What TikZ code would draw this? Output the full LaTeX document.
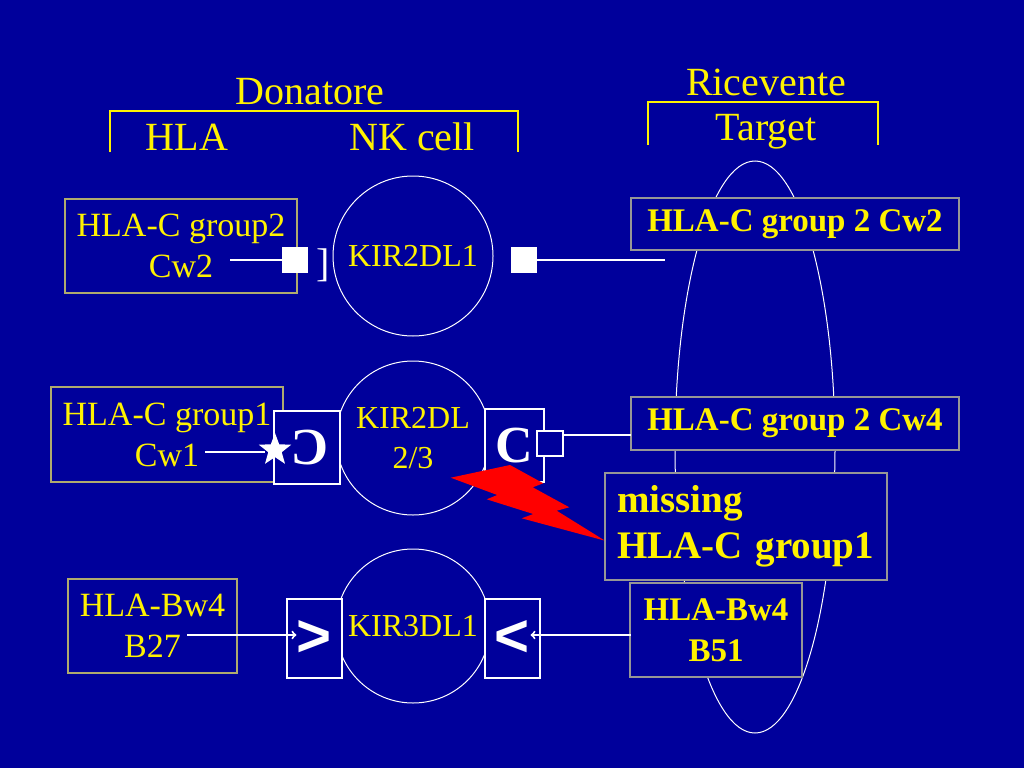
\documentclass[tikz,border=0pt]{standalone}
\usepackage{fontspec}
\setmainfont{Liberation Serif}
\newfontfamily\chevronfont{Liberation Sans}
\usepackage{graphicx}
\usetikzlibrary{shapes.geometric}
\definecolor{slideblue}{RGB}{0,0,155}
\definecolor{olivebox}{RGB}{175,170,110}
\definecolor{greybox}{RGB}{150,150,150}

\begin{document}
\begin{tikzpicture}[x=1pt, y=-1pt,
    head/.style={text=yellow, font=\fontsize{40}{44}\selectfont},
    lbox/.style={draw=olivebox, line width=1.5pt, fill=slideblue, text=yellow, align=center, inner sep=0pt, font=\fontsize{34}{41}\selectfont},
    tbox/.style={draw=greybox, line width=1.5pt, fill=slideblue, text=yellow, align=center, inner sep=0pt, font=\bfseries\fontsize{33}{41}\selectfont},
    cell/.style={draw=white, circle, line width=1pt, inner sep=0pt, text=yellow, align=center, font=\fontsize{32}{40}\selectfont},
    site/.style={draw=white, line width=1.2pt, fill=slideblue, inner sep=0pt, text=white, font=\bfseries\fontsize{52}{52}\selectfont},
    knob/.style={fill=white, minimum size=26pt, inner sep=0pt},
    wline/.style={white, line width=2pt},
  ]
    \fill[slideblue] (0,0) rectangle (1024,768);

    % target cell
    \draw[white, line width=1pt] (755,447) ellipse [x radius=80, y radius=286];

    \node[head] (don) at (310,92)  {Donatore};
    \node[head] (hla) at (187,137) {HLA};
    \node[head] (nk)  at (412,137) {NK cell};
    \node[head] (ric) at (766,82)  {Ricevente};
    \node[head] (tgt) at (766,132) {Target};
    \draw[yellow, line width=2pt] (110,152) -- (110,111) -- (518,111) -- (518,152);
    \draw[yellow, line width=2pt] (648,145) -- (648,102) -- (878,102) -- (878,145);

    \node[cell, minimum size=160pt] (kirA) at (413,256) {KIR2DL1};
    \node[cell, minimum size=154pt] (kirB) at (413,438) {KIR2DL\\2/3};
    \node[cell, minimum size=154pt] (kirC) at (413,626) {KIR3DL1};

    % KIR2DL1
    \node[lbox, minimum width=232pt, minimum height=94pt] (grpA) at (181,246) {HLA-C group2\\Cw2};
    \node[knob] (knobL) at (295,260) {};
    \node[text=white, font=\fontsize{40}{40}\selectfont] (brk) at (323,265) {]};
    \node[knob] (knobR) at (524,260) {};
    \node[tbox, minimum width=328pt, minimum height=52pt] (cwA) at (795,224) {HLA-C group 2 Cw2};
    \coordinate (cwtwo) at (230,260);
    \coordinate (cwtwoR) at (665,260);
    \draw[wline] (cwtwo) -- (knobL.west);
    \draw[wline] (knobR.east) -- (cwtwoR);

    % KIR2DL2/3
    \node[lbox, minimum width=232pt, minimum height=95pt] (grpB) at (167,434.5) {HLA-C group1\\Cw1};
    \node[site, minimum width=66pt, minimum height=73pt] (siteL) at (307,447.5) {\hspace*{6pt}\raisebox{-3pt}{\reflectbox{C}}};
    \node[site, minimum width=59pt, minimum height=73pt] (siteR) at (514.5,445.5) {C};
    \node[draw=white, line width=1.2pt, fill=slideblue, minimum width=26pt, minimum height=25pt, inner sep=0pt] (pocket) at (550,443.5) {};
    \node[star, star points=5, star point ratio=2.4, fill=white, minimum size=34pt, inner sep=0pt] (starL) at (275,450) {};
    \node[tbox, minimum width=328pt, minimum height=53pt] (cwB) at (795,423.5) {HLA-C group 2 Cw4};
    \coordinate (cwone) at (205,452);
    \coordinate (cwfour) at (631,435);
    \draw[wline] (cwone) -- (starL.west |- cwone);
    \draw[wline] (pocket.east |- cwfour) -- (cwfour);

    \fill[red] (450.7,477.7) -- (510,465) -- (543.3,483.3) -- (532.7,487.3) -- (569.3,507.3)
        -- (556.7,510.7) -- (605,540.7) -- (521.7,518.3) -- (533.3,514) -- (486.7,499.3)
        -- (497.3,495) -- cycle;
    \node[tbox, align=left, text width=258pt, inner sep=12pt, minimum height=107pt,
        font=\bfseries\fontsize{39}{46}\selectfont] (miss) at (746,526.5) {missing\\HLA-C group1};

    % KIR3DL1
    \node[lbox, minimum width=169pt, minimum height=94pt] (grpC) at (152.5,626) {HLA-Bw4\\B27};
    \node[site, minimum width=55pt, minimum height=79pt, font=\chevronfont\bfseries\fontsize{60}{60}\selectfont] (siteG) at (314.5,638.5) {\raisebox{-7pt}{>}};
    \node[site, minimum width=55pt, minimum height=79pt, font=\chevronfont\bfseries\fontsize{60}{60}\selectfont] (siteS) at (512.5,638.5) {\raisebox{-7pt}{<}};
    \node[tbox, minimum width=172pt, minimum height=94pt] (bw) at (716,630) {HLA-Bw4\\B51};
    \coordinate (btwo) at (187,635);
    \coordinate (bfive) at (631,635);
    \draw[wline, ->] (btwo) -- ([xshift=10pt]siteG.west |- btwo);
    \draw[wline, ->] (bfive) -- ([xshift=-10pt]siteS.east |- bfive);
\end{tikzpicture}
\end{document}
